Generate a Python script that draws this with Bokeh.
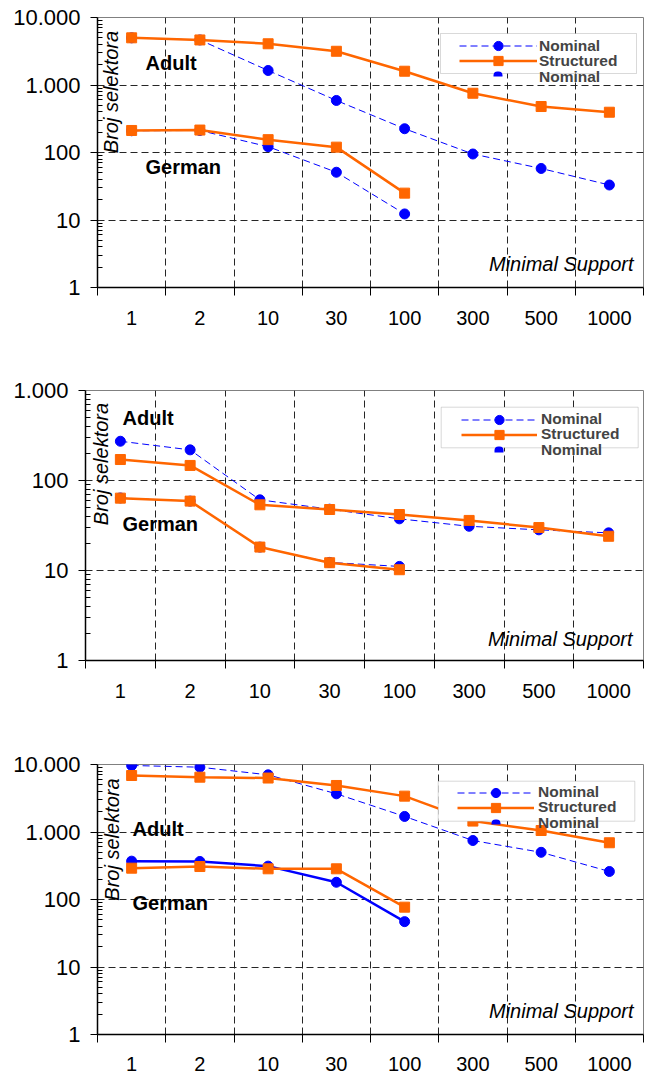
from math import pi
from bokeh.plotting import figure
from bokeh.models import Range1d, FixedTicker, Label, Legend, LegendItem, BoxAnnotation
from bokeh.embed import file_html
from bokeh.resources import INLINE

# ---------------- data ----------------
categories = ["1", "2", "10", "30", "100", "300", "500", "1000"]

p1_adult_nominal = [5000, 4650, 1640, 590, 225, 95, 58, 33]
p1_adult_structured = [5000, 4650, 4080, 3160, 1600, 755, 480, 395]
p1_german_nominal = [210, 212, 122, 51, 12.3]
p1_german_structured = [212, 215, 155, 120, 25]

p2_adult_nominal = [273, 219, 61, 48, 37.5, 31, 28.3, 26.2]
p2_adult_structured = [171, 147, 53.7, 47.6, 41.9, 36, 30, 24]
p2_german_nominal = [64, 59, 18.2, 12.3, 11.1]
p2_german_structured = [63.7, 59, 18.2, 12.2, 10.2]

p3_adult_nominal = [9670, 9120, 7030, 3680, 1700, 748, 500, 260]
p3_adult_structured = [6870, 6490, 6300, 4890, 3400, 1450, 1052, 693]
p3_german_nominal = [370, 366, 312, 180, 47]
p3_german_structured = [291, 308, 285, 285, 77]

y_ticks_4 = [1, 10, 100, 1000, 10000]
y_tick_labels_4 = ["1", "10", "100", "1.000", "10.000"]
y_ticks_3 = [1, 10, 100, 1000]
y_tick_labels_3 = ["1", "10", "100", "1.000"]

series_names = ["Nominal", "Structured", "Nominal"]

# ---------------- styles ----------------
FONT = "Liberation Sans"
BLUE = "#0000ff"
ORANGE = "#ff6600"
GRID = "#262626"

panels = [
    dict(adult_nom=p1_adult_nominal, adult_str=p1_adult_structured,
         german_nom=p1_german_nominal, german_str=p1_german_structured,
         german_nom_dash="7 4",
         yticks=y_ticks_4, ylabels=y_tick_labels_4,
         L=97, fw=546, T=17, B=63, standoff=15,
         adult=(48, 225), german=(48, 120.3), broj=(13, 195.5), minimal=(536, 23.3),
         leg_x=362, leg_rows=(229.8, 214.8, 198.8), gw=78, ls=2,
         box=(343, 539, 214, 254), cap=(396, 405, 211, 216)),
    dict(adult_nom=p2_adult_nominal, adult_str=p2_adult_structured,
         german_nom=p2_german_nominal, german_str=p2_german_structured,
         german_nom_dash="7 4",
         yticks=y_ticks_3, ylabels=y_tick_labels_3,
         L=85, fw=558, T=40, B=65, standoff=15,
         adult=(37, 243), german=(37, 136.2), broj=(15, 196.5), minimal=(547, 21.7),
         leg_x=376, leg_rows=(229.5, 214.5, 198.5), gw=76, ls=4,
         box=(355.7, 552.7, 212.7, 253.3), cap=(409, 418, 208, 214)),
    dict(adult_nom=p3_adult_nominal, adult_str=p3_adult_structured,
         german_nom=p3_german_nominal, german_str=p3_german_structured,
         german_nom_dash="solid",
         yticks=y_ticks_4, ylabels=y_tick_labels_4,
         L=97, fw=546, T=39, B=39, standoff=14,
         adult=(35, 205.7), german=(35, 131.5), broj=(14, 195), minimal=(536, 23.2),
         leg_x=360, leg_rows=(230.2, 215.2, 199.2), gw=77, ls=4,
         box=(340.7, 537.3, 213.3, 253.3), cap=(394, 403, 210, 215)),
]


def make_panel(c):
    n = len(categories)
    xs = [i + 1 for i in range(n)]
    bounds = [i + 0.5 for i in range(n + 1)]
    ymax = c["yticks"][-1]

    p = figure(frame_width=c["fw"], frame_height=270,
               x_range=Range1d(0.5, n + 0.5), y_range=Range1d(1, ymax),
               y_axis_type="log", output_backend="svg", toolbar_location=None,
               min_border_left=c["L"], min_border_right=8,
               min_border_top=c["T"], min_border_bottom=c["B"],
               background_fill_color="white", border_fill_color="white")
    p.outline_line_color = "#808080"
    p.outline_line_width = 1

    # grids
    p.xgrid.ticker = FixedTicker(ticks=bounds)
    p.ygrid.ticker = FixedTicker(ticks=c["yticks"])
    for g in (p.xgrid[0], p.ygrid[0]):
        g.grid_line_color = GRID
        g.grid_line_dash = "7 4"
        g.grid_line_width = 1

    # x axis
    xa = p.xaxis[0]
    xa.ticker = FixedTicker(ticks=xs, minor_ticks=bounds)
    xa.major_label_overrides = {x: cat for x, cat in zip(xs, categories)}
    xa.major_tick_in = 0
    xa.major_tick_out = 0
    xa.major_tick_line_color = None
    xa.minor_tick_in = 0
    xa.minor_tick_out = 8
    xa.minor_tick_line_color = "black"
    xa.minor_tick_line_width = 1
    xa.major_label_standoff = c["standoff"]
    xa.major_label_text_font_size = "20px"

    # y axis
    ya = p.yaxis[0]
    minors = [m * d for d in c["yticks"][:-1] for m in range(2, 10)]
    ya.ticker = FixedTicker(ticks=c["yticks"], minor_ticks=minors)
    ya.major_label_overrides = {t: lab for t, lab in zip(c["yticks"], c["ylabels"])}
    ya.major_tick_in = 0
    ya.major_tick_out = 7
    ya.minor_tick_in = 5
    ya.minor_tick_out = 0
    ya.major_tick_line_color = "black"
    ya.minor_tick_line_color = "black"
    ya.major_label_standoff = 10
    ya.major_label_text_font_size = "22px"

    for ax in (xa, ya):
        ax.axis_line_color = "black"
        ax.axis_line_width = 1.5
        ax.major_label_text_font = FONT
        ax.major_label_text_color = "black"

    # series
    xg = xs[:len(c["german_nom"])]
    an_l = p.line(xs, c["adult_nom"], line_color=BLUE, line_width=1, line_dash="7 4")
    an_s = p.scatter(xs, c["adult_nom"], marker="circle", size=10, color=BLUE)
    gn_w = 1 if c["german_nom_dash"] != "solid" else 2.5
    p.line(xg, c["german_nom"], line_color=BLUE, line_width=gn_w, line_dash=c["german_nom_dash"])
    p.scatter(xg, c["german_nom"], marker="circle", size=10, color=BLUE)
    as_l = p.line(xs, c["adult_str"], line_color=ORANGE, line_width=2.5)
    as_s = p.scatter(xs, c["adult_str"], marker="square", size=10, color=ORANGE)
    p.line(xg, c["german_str"], line_color=ORANGE, line_width=2.5)
    p.scatter(xg, c["german_str"], marker="square", size=10, color=ORANGE)
    dummy = p.scatter(x=[], y=[], marker="circle", size=1, fill_alpha=0, line_alpha=0)

    # text annotations
    def lab(txt, pos, size, style, align="left", angle=0):
        p.add_layout(Label(x=pos[0], y=pos[1], x_units="screen", y_units="screen",
                           text=txt, text_font=FONT, text_font_size=size,
                           text_font_style=style, text_align=align,
                           text_baseline="middle", angle=angle, text_color="black"))

    lab("Adult", c["adult"], "20px", "bold")
    lab("German", c["german"], "20px", "bold")
    lab("Broj selektora", c["broj"], "20px", "italic", align="center", angle=pi / 2)
    lab("Minimal Support", c["minimal"], "20px", "italic", align="right")

    # legend box
    bl, br, bb, bt = c["box"]
    p.add_layout(BoxAnnotation(left=bl, right=br, bottom=bb, top=bt,
                               left_units="screen", right_units="screen",
                               bottom_units="screen", top_units="screen",
                               fill_color="white", fill_alpha=1,
                               line_color="#808080", line_width=1))
    renderer_sets = [[an_l, an_s], [as_l, as_s], [dummy]]
    for name, rends, vy in zip(series_names, renderer_sets, c["leg_rows"]):
        legend = Legend(items=[LegendItem(label=name, renderers=rends)],
                        location=(c["leg_x"], vy), padding=0, spacing=0, margin=0,
                        glyph_width=c["gw"], glyph_height=23, label_height=15,
                        label_standoff=c["ls"], label_text_font=FONT,
                        label_text_font_style="bold", label_text_font_size="15.5px",
                        border_line_alpha=0, background_fill_alpha=0)
        p.add_layout(legend)
    cl, cr, cb, ct = c["cap"]
    p.add_layout(BoxAnnotation(left=cl, right=cr, bottom=cb, top=ct,
                               left_units="screen", right_units="screen",
                               bottom_units="screen", top_units="screen",
                               fill_color=BLUE, fill_alpha=1, line_alpha=0,
                               border_radius=(4, 4, 0, 0)))
    return p


figs = [make_panel(c) for c in panels]
open("out.html", "w").write(file_html(figs, INLINE))
